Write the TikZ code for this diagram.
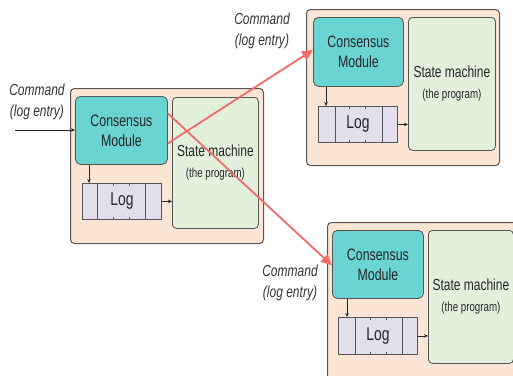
\documentclass[tikz,border=0pt]{standalone}
\usepackage{fontspec}
\setmainfont[FakeStretch=0.75]{Liberation Sans}
\usetikzlibrary{arrows.meta}
\definecolor{peach}{HTML}{FBE6D6}
\definecolor{teal1}{HTML}{6AD4D2}
\definecolor{smgreen}{HTML}{E2F0DC}
\definecolor{loglav}{HTML}{E2DEEC}
\definecolor{bord}{HTML}{555555}
\definecolor{redarr}{HTML}{F26A6A}
\tikzset{
  outerbox/.style={draw=bord, fill=peach, line width=1pt, rounded corners=4pt},
  cmbox/.style={draw=bord, fill=teal1, line width=0.8pt, rounded corners=5pt, anchor=north west, align=center, inner sep=0pt, text=black!85, font=\fontsize{16.5}{20}\selectfont},
  smbox/.style={draw=bord, fill=smgreen, line width=0.8pt, rounded corners=4pt, anchor=north west, align=center, inner sep=0pt, text=black!85, font=\fontsize{16}{21}\selectfont},
  logbox/.style={draw=bord, fill=loglav, line width=0.8pt, anchor=north west, inner sep=0pt},
  logtext/.style={inner sep=0pt, text=black!85, font=\fontsize{18.5}{20}\selectfont},
  cmdlabel/.style={align=center, inner sep=0pt, font=\fontsize{16}{21}\selectfont\itshape, text=black!80},
  arr/.style={draw=black!85, line width=0.7pt, -{Stealth[length=4pt,width=3.5pt]}},
  redline/.style={draw=redarr, line width=1.8pt, -{Triangle[length=11pt,width=10pt]}},
  divider/.style={draw=bord, line width=0.8pt}
}
\newcommand{\smtext}{State machine\\{\fontsize{13}{21}\selectfont (the program)}}
\begin{document}
\begin{tikzpicture}[x=1pt,y=-1pt]
\useasboundingbox (0,0) rectangle (513,375);
\clip (0,0) rectangle (513,375);

% ---------- Group 1 ----------
\node[outerbox, anchor=north west, minimum width=193pt, minimum height=155pt, inner sep=0pt] (out1) at (70,88) {};
\node[cmbox, minimum width=92pt, minimum height=68pt] (cm1) at (75,96) {Consensus\\Module};
\node[smbox, minimum width=86pt, minimum height=131pt] (sm1) at (172,97) {\smtext};
\node[logbox, minimum width=79pt, minimum height=36pt] (log1) at (82,183) {};
\draw[divider] ([xshift=15pt]log1.north west) -- ([xshift=15pt]log1.south west);
\draw[divider] ([xshift=-16pt]log1.north east) -- ([xshift=-16pt]log1.south east);
\foreach \d in {31,47}{
  \draw[divider] ([xshift=\d pt]log1.north west) -- ++(0,3);
  \draw[divider] ([xshift=\d pt]log1.south west) -- ++(0,-3);
}
\node[logtext] (logt1) at (log1.center) {Log};
\coordinate (in1) at (15,130);
\draw[arr] (in1) -- (in1 -| cm1.west);
\draw[arr] ([xshift=14pt]cm1.south west) -- ([xshift=14pt]cm1.south west |- log1.north);
\draw[arr] (log1.east) -- (log1.east -| sm1.west);
\node[cmdlabel] (cmd1) at (37,101.5) {Command\\(log entry)};

% ---------- Group 2 ----------
\node[outerbox, anchor=north west, minimum width=193pt, minimum height=156pt, inner sep=0pt] (out2) at (306,9) {};
\node[cmbox, minimum width=90pt, minimum height=69pt] (cm2) at (313,17) {Consensus\\Module};
\node[smbox, minimum width=87pt, minimum height=133pt] (sm2) at (408,17) {\smtext};
\node[logbox, minimum width=79pt, minimum height=36pt] (log2) at (318,106) {};
\draw[divider] ([xshift=17pt]log2.north west) -- ([xshift=17pt]log2.south west);
\draw[divider] ([xshift=-15pt]log2.north east) -- ([xshift=-15pt]log2.south east);
\foreach \d in {31,47}{
  \draw[divider] ([xshift=\d pt]log2.north west) -- ++(0,3);
  \draw[divider] ([xshift=\d pt]log2.south west) -- ++(0,-3);
}
\node[logtext] (logt2) at (log2.center) {Log};
\draw[arr] ([xshift=13pt]cm2.south west) -- ([xshift=13pt]cm2.south west |- log2.north);
\draw[arr] (log2.east) -- (log2.east -| sm2.west);
\node[cmdlabel] (cmd2) at (262,31) {Command\\(log entry)};

% ---------- Group 3 ----------
\node[outerbox, anchor=north west, minimum width=200pt, minimum height=170pt, inner sep=0pt] (out3) at (327,222) {};
\node[cmbox, minimum width=91pt, minimum height=68pt] (cm3) at (332,230) {Consensus\\Module};
\node[smbox, minimum width=85pt, minimum height=133pt] (sm3) at (428,230) {\smtext};
\node[logbox, minimum width=79pt, minimum height=37pt] (log3) at (338,317) {};
\draw[divider] ([xshift=17pt]log3.north west) -- ([xshift=17pt]log3.south west);
\draw[divider] ([xshift=-15pt]log3.north east) -- ([xshift=-15pt]log3.south east);
\foreach \d in {32,48}{
  \draw[divider] ([xshift=\d pt]log3.north west) -- ++(0,3);
  \draw[divider] ([xshift=\d pt]log3.south west) -- ++(0,-3);
}
\node[logtext] (logt3) at (log3.center) {Log};
\draw[arr] ([xshift=15pt]cm3.south west) -- ([xshift=15pt]cm3.south west |- log3.north);
\draw[arr] (log3.east) -- (log3.east -| sm3.west);
\node[cmdlabel] (cmd3) at (290,282.5) {Command\\(log entry)};

% ---------- Replication arrows ----------
\draw[redline] ([yshift=-13pt]cm1.east) -- ([yshift=2pt]cm2.west);
\draw[redline] ([yshift=17pt]cm1.east) -- ([yshift=-1pt]cm3.west);
\end{tikzpicture}
\end{document}
